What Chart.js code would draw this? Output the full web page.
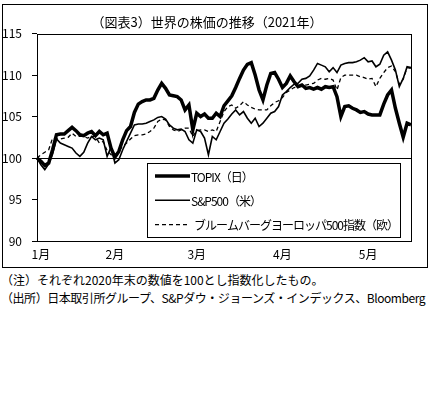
<!DOCTYPE html>
<html>
<head>
<meta charset="utf-8">
<script src="https://cdn.jsdelivr.net/npm/chart.js@4"></script>
<style>
    body { margin: 0; background: #fff; width: 433px; height: 398px; position: relative; overflow: hidden; font-family: 'Noto Sans CJK JP', sans-serif; }
    #box { position: absolute; left: 2px; top: 4px; width: 424px; height: 262px; border: 1px solid #000; }
    .note { position: absolute; left: 1px; font-size: 12px; line-height: 14px; white-space: nowrap; color: #000; }
</style>
</head>
<body>
<div id="box"><canvas id="stockChart" width="424" height="262"></canvas></div>
<div class="note" style="top:273px">（注）それぞれ2020年末の数値を100とし指数化したもの。</div>
<div class="note" style="top:291px; letter-spacing:-0.45px">（出所）日本取引所グループ、S&amp;Pダウ・ジョーンズ・インデックス、Bloomberg</div>
<script>
const monthLabels = ['1月', '2月', '3月', '4月', '5月'];
const monthStartIdx = [1, 20, 41, 63, 85];
const yTicks = [90, 95, 100, 105, 110, 115];

const topix = [100, 99.6, 99.1, 99.4, 101.0, 102.8, 102.9, 102.9, 103.3, 103.7,
    103.3, 102.8, 102.7, 103.0, 103.2, 102.7, 103.2, 102.8, 103.0, 101.2,
    100.1, 100.8, 102.2, 103.3, 103.8, 105.5, 106.5, 106.8, 107.0, 107.0,
    107.2, 108.2, 109.0, 108.4, 107.6, 107.5, 107.4, 107.0, 105.8, 106.4,
    103.4, 105.4, 105.0, 105.3, 104.8, 104.8, 105.4, 105.0, 106.3, 106.9,
    107.5, 108.5, 109.6, 110.6, 111.3, 111.5, 110.0, 108.2, 107.0, 108.8,
    110.2, 110.3, 109.5, 108.5, 109.0, 109.9, 109.2, 108.6, 108.8, 108.4,
    108.5, 108.3, 108.5, 108.3, 108.6, 108.5, 108.6, 107.4, 105.0, 106.2,
    106.3, 106.0, 105.8, 105.5, 105.6, 105.3, 105.2, 105.2, 105.2, 106.5,
    107.6, 108.2, 106.0, 104.2, 102.5, 104.2, 104.0];

const sp500 = [100, 99.2, 98.6, 99.3, 100.5, 102.3, 101.8, 101.6, 101.4, 101.2,
    100.6, 100.2, 100.7, 101.8, 102.6, 102.2, 102.4, 102.2, 100.2, 101.3,
    99.4, 99.8, 101.0, 102.0, 103.0, 104.0, 104.1, 104.1, 104.2, 104.4,
    104.6, 104.9, 105.0, 104.7, 104.0, 103.6, 103.4, 103.5, 103.2, 102.2,
    101.8, 103.4, 103.2, 102.4, 100.4, 102.6, 102.2, 103.2, 104.2, 104.7,
    105.3, 105.8, 105.2, 105.6, 104.8, 104.2, 104.8, 103.8, 104.2, 104.8,
    105.4, 105.6, 106.2, 107.6, 108.0, 108.5, 108.9, 109.0, 109.5, 109.6,
    109.9, 110.6, 111.4, 111.2, 111.0, 110.4, 110.9, 110.3, 111.2, 111.4,
    111.5, 111.5, 111.6, 111.8, 112.1, 111.6, 111.7, 111.0, 111.3, 112.4,
    112.8, 111.8, 110.6, 108.6, 109.6, 111.0, 110.9];

const europe500 = [100, 100.4, 100.7, 101.0, 102.4, 102.3, 102.3, 102.4, 102.5, 103.0,
    102.6, 102.6, 102.6, 102.4, 102.6, 102.6, 101.8, 102.0, 100.9, 100.4,
    100.3, 100.9, 101.4, 101.8, 102.3, 102.7, 102.8, 102.8, 102.9, 103.2,
    103.6, 104.4, 104.7, 104.6, 103.8, 103.4, 103.2, 103.4, 103.6, 103.6,
    102.6, 103.3, 103.4, 103.4, 103.2, 103.4, 103.2, 104.4, 105.6, 106.2,
    106.4, 106.0, 106.3, 106.8, 106.4, 106.1, 105.9, 105.8, 105.8, 105.8,
    106.3, 106.7, 106.9, 107.3, 107.9, 108.2, 108.5, 108.6, 108.7, 108.8,
    108.9, 109.0, 109.4, 109.6, 109.5, 109.6, 109.4, 108.2, 109.7, 110.0,
    110.0, 110.0, 110.0, 109.8, 109.7, 109.5, 109.6, 108.6, 109.6, 110.3,
    110.9, 111.1, 110.4, 108.9, 109.5, 110.9, 110.8];

const fontFamily = "'Noto Sans CJK JP', sans-serif";

// one category per trading day, month name on the first day of each month
const dayLabels = topix.map(function(v, i) {
    const m = monthStartIdx.indexOf(i);
    return m >= 0 ? monthLabels[m] : '';
});

// plot frame on all four sides
const plotFrame = {
    id: 'plotFrame',
    afterDatasetsDraw(chart) {
        const a = chart.chartArea;
        const ctx = chart.ctx;
        ctx.save();
        ctx.strokeStyle = '#000';
        ctx.lineWidth = 1;
        ctx.strokeRect(Math.round(a.left) + 0.5, Math.round(a.top) + 0.5,
            Math.round(a.right - a.left), Math.round(a.bottom - a.top));
        ctx.restore();
    }
};

// boxed legend inside the plot
const boxLegend = {
    id: 'boxLegend',
    afterDraw(chart) {
        const ctx = chart.ctx;
        const x = 144, y = 158, w = 253, h = 74;
        ctx.save();
        ctx.fillStyle = '#fff';
        ctx.fillRect(x, y, w, h);
        ctx.strokeStyle = '#000';
        ctx.lineWidth = 1;
        ctx.strokeRect(x + 0.5, y + 0.5, w, h);
        chart.data.datasets.forEach(function(ds, i) {
            const ly = y + 13 + i * 24.3;
            ctx.beginPath();
            ctx.lineWidth = ds.borderWidth;
            ctx.setLineDash(ds.borderDash || []);
            ctx.moveTo(x + 8, ly);
            ctx.lineTo(x + 43, ly);
            ctx.stroke();
            ctx.setLineDash([]);
            ctx.fillStyle = '#000';
            ctx.font = "12px " + fontFamily;
            ctx.letterSpacing = '-1px';
            ctx.textBaseline = 'middle';
            ctx.fillText(ds.label, x + 44 + (ds.borderDash ? 3 : 0), ly + 1);
        });
        ctx.restore();
    }
};

const ctx = document.getElementById('stockChart').getContext('2d');
new Chart(ctx, {
    type: 'line',
    data: {
        labels: dayLabels,
        datasets: [{
            label: 'TOPIX（日）',
            data: topix,
            borderColor: '#000',
            borderWidth: 3.5,
            pointRadius: 0,
            tension: 0
        }, {
            label: 'S&P500（米）',
            data: sp500,
            borderColor: '#000',
            borderWidth: 1.6,
            pointRadius: 0,
            tension: 0
        }, {
            label: 'ブルームバーグヨーロッパ500指数（欧）',
            data: europe500,
            borderColor: '#000',
            borderWidth: 1.3,
            borderDash: [4, 3],
            pointRadius: 0,
            tension: 0
        }]
    },
    options: {
        responsive: false,
        animation: false,
        layout: { padding: { top: 0, right: 16, bottom: 0, left: 0 } },
        scales: {
            x: {
                type: 'category',
                offset: false,
                afterFit: function(scale) { scale.height = 26; },
                grid: { display: false, drawTicks: false },
                border: { display: false },
                ticks: {
                    autoSkip: false,
                    maxRotation: 0,
                    minRotation: 0,
                    padding: 6,
                    color: '#000',
                    font: { family: fontFamily, size: 12 }
                }
            },
            y: {
                min: 90,
                max: 115,
                afterFit: function(scale) { scale.width = 34; },
                afterBuildTicks: function(scale) {
                    scale.ticks = yTicks.map(function(v) { return { value: v }; });
                },
                grid: {
                    color: function(c) { return c.tick && c.tick.value === 100 ? '#000' : 'rgba(0,0,0,0)'; },
                    tickColor: '#000',
                    tickLength: 5,
                    lineWidth: 1
                },
                border: { display: false },
                ticks: {
                    padding: 10,
                    color: '#000',
                    font: { family: fontFamily, size: 12 }
                }
            }
        },
        plugins: {
            legend: { display: false },
            tooltip: { enabled: false },
            title: {
                display: true,
                text: '（図表3）世界の株価の推移（2021年）',
                color: '#000',
                font: { family: fontFamily, size: 13, weight: 'normal' },
                padding: { top: 9, bottom: 4 }
            }
        }
    },
    plugins: [plotFrame, boxLegend]
});
</script>
</body>
</html>
